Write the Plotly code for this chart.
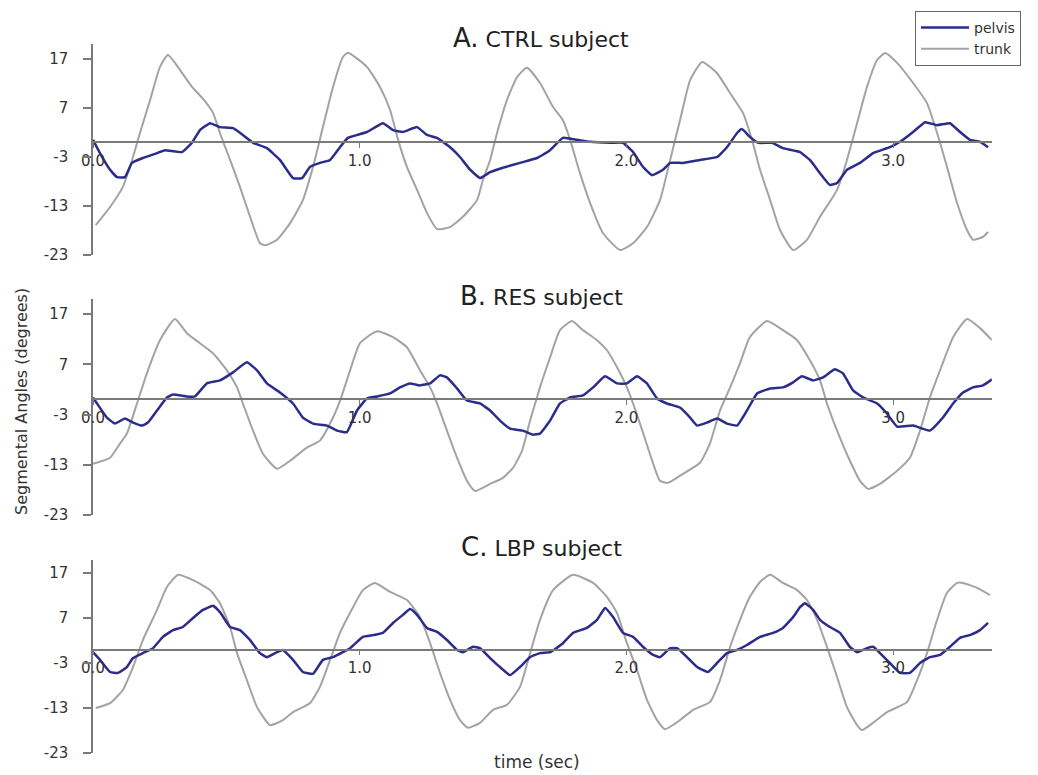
import plotly.graph_objects as go

# ---------------- data (time in sec, angle in degrees) ----------------
a_trunk_t = [0.01, 0.064, 0.112, 0.15, 0.176, 0.214, 0.251, 0.281, 0.326, 0.371, 0.412, 0.45, 0.476, 0.514, 0.551, 0.589, 0.626, 0.645, 0.69, 0.739, 0.787, 0.825, 0.862, 0.9, 0.937, 0.956, 1.027, 1.076, 1.114, 1.144, 1.177, 1.215, 1.252, 1.29, 1.339, 1.387, 1.44, 1.462, 1.489, 1.515, 1.552, 1.59, 1.627, 1.676, 1.725, 1.762, 1.789, 1.826, 1.864, 1.912, 1.976, 2.025, 2.077, 2.126, 2.164, 2.201, 2.239, 2.284, 2.34, 2.389, 2.437, 2.471, 2.501, 2.539, 2.576, 2.625, 2.677, 2.726, 2.79, 2.827, 2.865, 2.902, 2.94, 2.97, 3.015, 3.075, 3.127, 3.165, 3.202, 3.24, 3.277, 3.3, 3.337, 3.356]
a_trunk_v = [-16.9, -13.2, -9.1, -3.0, 1.9, 8.6, 15.4, 17.8, 14.8, 11.3, 8.9, 6.0, 1.9, -3.6, -9.1, -15.2, -20.6, -21.0, -19.9, -16.5, -11.8, -5.0, 3.1, 11.3, 17.4, 18.3, 15.4, 11.3, 6.6, 0.5, -5.0, -9.7, -14.4, -17.7, -17.3, -15.2, -11.8, -7.7, -3.6, 1.9, 8.6, 13.3, 15.2, 12.1, 7.2, 4.5, 0.5, -6.3, -12.4, -18.5, -22.0, -20.6, -17.3, -11.8, -3.6, 4.5, 12.7, 16.4, 14.1, 10.0, 6.0, 0.5, -5.6, -11.8, -17.9, -22.0, -19.9, -15.2, -9.7, -3.6, 3.9, 11.3, 16.8, 18.2, 16.2, 12.1, 8.0, 1.9, -5.0, -12.4, -17.9, -19.9, -19.3, -18.3]

a_pelvis_t = [0.0, 0.026, 0.064, 0.09, 0.12, 0.146, 0.187, 0.24, 0.27, 0.334, 0.371, 0.401, 0.439, 0.476, 0.525, 0.562, 0.6, 0.652, 0.701, 0.75, 0.784, 0.814, 0.851, 0.889, 0.926, 0.956, 1.027, 1.087, 1.125, 1.162, 1.215, 1.252, 1.29, 1.339, 1.376, 1.414, 1.451, 1.489, 1.537, 1.601, 1.665, 1.714, 1.762, 1.815, 1.864, 1.939, 1.987, 2.025, 2.062, 2.096, 2.137, 2.164, 2.212, 2.276, 2.34, 2.377, 2.415, 2.433, 2.463, 2.494, 2.546, 2.587, 2.651, 2.688, 2.726, 2.763, 2.79, 2.827, 2.876, 2.925, 2.988, 3.026, 3.075, 3.12, 3.165, 3.213, 3.251, 3.288, 3.326, 3.356]
a_pelvis_v = [0.5, -2.2, -5.6, -7.1, -7.1, -4.2, -3.2, -2.2, -1.6, -2.0, -0.1, 2.5, 3.9, 3.1, 2.9, 1.5, -0.1, -1.2, -3.6, -7.3, -7.3, -5.0, -4.2, -3.6, -1.0, 0.9, 2.1, 3.9, 2.5, 2.1, 3.1, 1.5, 0.9, -1.0, -3.0, -5.6, -7.3, -6.1, -5.2, -4.2, -3.2, -1.6, 0.9, 0.5, 0.1, -0.1, -0.1, -2.0, -5.0, -6.7, -5.6, -4.2, -4.2, -3.6, -3.0, -1.0, 1.9, 2.7, 1.1, -0.1, -0.1, -1.2, -2.0, -3.6, -6.3, -8.7, -8.3, -5.6, -4.2, -2.2, -1.0, 0.1, 2.1, 4.1, 3.5, 3.9, 2.1, 0.5, 0.1, -1.0]

b_trunk_t = [0.0, 0.064, 0.101, 0.127, 0.165, 0.202, 0.251, 0.307, 0.352, 0.401, 0.45, 0.502, 0.54, 0.562, 0.6, 0.637, 0.69, 0.739, 0.802, 0.851, 0.9, 0.926, 0.964, 1.001, 1.065, 1.125, 1.177, 1.226, 1.264, 1.29, 1.327, 1.365, 1.402, 1.432, 1.489, 1.537, 1.575, 1.609, 1.639, 1.676, 1.714, 1.751, 1.796, 1.837, 1.89, 1.927, 1.965, 2.002, 2.025, 2.051, 2.088, 2.126, 2.156, 2.212, 2.276, 2.313, 2.351, 2.389, 2.426, 2.463, 2.527, 2.587, 2.64, 2.688, 2.726, 2.752, 2.79, 2.838, 2.876, 2.906, 2.951, 3.015, 3.063, 3.101, 3.138, 3.176, 3.225, 3.277, 3.326, 3.371]
b_trunk_v = [-12.8, -11.6, -8.8, -6.8, -0.8, 5.2, 11.8, 16.0, 13.2, 11.2, 9.2, 5.8, 2.4, -0.8, -6.2, -10.8, -13.8, -12.2, -9.6, -8.2, -3.6, -0.3, 5.8, 11.2, 13.6, 12.4, 10.4, 5.8, 2.4, -0.8, -6.2, -11.6, -16.2, -18.2, -16.8, -15.6, -13.6, -10.2, -4.2, 2.4, 8.4, 13.8, 15.6, 13.8, 11.8, 9.8, 6.4, 2.4, -0.8, -4.8, -10.8, -16.2, -16.6, -14.8, -12.6, -8.8, -2.2, 2.4, 7.2, 12.4, 15.6, 13.8, 11.8, 7.8, 3.8, -0.8, -6.2, -12.2, -16.2, -17.8, -16.8, -14.2, -11.6, -6.2, 0.4, 5.8, 12.4, 16.0, 14.2, 11.8]

b_pelvis_t = [0.0, 0.015, 0.052, 0.082, 0.12, 0.15, 0.184, 0.206, 0.24, 0.277, 0.3, 0.352, 0.382, 0.427, 0.476, 0.525, 0.577, 0.615, 0.652, 0.701, 0.75, 0.787, 0.825, 0.877, 0.915, 0.952, 0.99, 1.027, 1.065, 1.114, 1.151, 1.189, 1.226, 1.264, 1.301, 1.327, 1.365, 1.402, 1.451, 1.489, 1.526, 1.564, 1.612, 1.65, 1.676, 1.714, 1.751, 1.789, 1.837, 1.875, 1.92, 1.965, 2.002, 2.04, 2.077, 2.115, 2.152, 2.201, 2.239, 2.265, 2.302, 2.34, 2.377, 2.415, 2.452, 2.49, 2.539, 2.587, 2.625, 2.658, 2.7, 2.737, 2.782, 2.812, 2.85, 2.887, 2.94, 2.977, 3.015, 3.075, 3.138, 3.187, 3.225, 3.262, 3.3, 3.337, 3.371]
b_pelvis_v = [0.4, -0.8, -3.6, -4.8, -3.8, -4.6, -5.2, -4.6, -2.2, 0.4, 1.0, 0.6, 0.6, 3.2, 3.8, 5.4, 7.4, 5.8, 3.2, 1.4, -0.8, -3.6, -4.8, -5.2, -6.2, -6.5, -2.2, 0.2, 0.6, 1.2, 2.4, 3.2, 2.8, 3.2, 4.8, 4.4, 2.2, -0.2, -0.8, -2.2, -4.2, -5.8, -6.2, -7.0, -6.8, -4.2, -0.8, 0.4, 0.8, 2.4, 4.6, 3.2, 3.2, 4.6, 3.2, 0.2, -0.8, -1.6, -3.6, -5.2, -4.6, -3.8, -4.8, -5.2, -2.2, 1.2, 2.2, 2.4, 3.4, 4.6, 3.8, 4.4, 6.0, 5.2, 1.8, 0.4, -0.8, -2.8, -5.4, -5.2, -6.2, -3.6, -0.8, 1.4, 2.4, 2.8, 4.0]

c_trunk_t = [0.01, 0.064, 0.112, 0.15, 0.187, 0.24, 0.277, 0.319, 0.375, 0.439, 0.476, 0.514, 0.54, 0.577, 0.615, 0.664, 0.712, 0.75, 0.814, 0.851, 0.889, 0.926, 0.975, 1.012, 1.057, 1.114, 1.177, 1.226, 1.264, 1.301, 1.339, 1.376, 1.406, 1.451, 1.5, 1.552, 1.601, 1.639, 1.676, 1.725, 1.8, 1.875, 1.927, 1.965, 2.002, 2.04, 2.077, 2.115, 2.145, 2.201, 2.25, 2.313, 2.351, 2.389, 2.426, 2.463, 2.501, 2.539, 2.587, 2.64, 2.677, 2.715, 2.752, 2.79, 2.827, 2.865, 2.883, 2.925, 2.977, 3.052, 3.09, 3.127, 3.165, 3.202, 3.24, 3.262, 3.315, 3.363]
c_trunk_v = [-13.0, -11.9, -9.0, -3.9, 2.1, 8.8, 13.9, 16.6, 15.4, 13.2, 10.3, 5.0, -0.8, -6.8, -12.8, -16.8, -15.7, -13.9, -11.9, -8.3, -2.3, 3.7, 9.4, 13.2, 14.8, 12.8, 11.0, 7.2, 1.4, -5.2, -11.2, -15.7, -17.4, -16.3, -13.4, -12.3, -8.3, -0.8, 6.6, 13.2, 16.6, 14.8, 11.7, 8.1, 1.4, -4.6, -11.2, -15.7, -17.7, -15.7, -13.4, -11.7, -6.8, 0.6, 6.6, 11.7, 15.0, 16.6, 14.8, 13.2, 11.0, 6.6, 0.6, -6.1, -12.8, -16.8, -17.9, -16.3, -13.9, -11.7, -6.8, -0.8, 6.6, 12.6, 14.8, 14.8, 13.7, 12.1]

c_pelvis_t = [0.0, 0.026, 0.064, 0.094, 0.127, 0.15, 0.187, 0.225, 0.262, 0.3, 0.337, 0.375, 0.412, 0.45, 0.476, 0.514, 0.551, 0.589, 0.626, 0.652, 0.69, 0.712, 0.75, 0.787, 0.825, 0.862, 0.9, 0.937, 0.964, 1.012, 1.05, 1.087, 1.125, 1.162, 1.189, 1.215, 1.252, 1.29, 1.327, 1.365, 1.387, 1.425, 1.451, 1.489, 1.526, 1.564, 1.601, 1.639, 1.676, 1.714, 1.762, 1.8, 1.852, 1.89, 1.92, 1.95, 1.987, 2.025, 2.062, 2.1, 2.126, 2.164, 2.19, 2.227, 2.265, 2.306, 2.34, 2.377, 2.415, 2.452, 2.501, 2.55, 2.587, 2.625, 2.651, 2.67, 2.7, 2.726, 2.763, 2.801, 2.838, 2.865, 2.902, 2.925, 2.951, 2.988, 3.026, 3.063, 3.101, 3.138, 3.176, 3.213, 3.251, 3.288, 3.326, 3.356]
c_pelvis_v = [-0.6, -2.3, -5.0, -5.2, -3.9, -1.9, -0.8, 0.3, 2.8, 4.3, 5.0, 7.0, 8.8, 9.7, 8.3, 5.0, 4.3, 2.1, -0.8, -1.7, -0.6, -0.1, -2.3, -5.0, -5.4, -2.3, -1.7, -0.6, 0.3, 2.8, 3.2, 3.7, 5.9, 7.7, 9.0, 7.7, 4.8, 3.9, 2.1, -0.1, -0.6, 0.6, 0.3, -1.9, -3.9, -5.7, -3.9, -1.7, -0.8, -0.6, 1.4, 3.7, 4.8, 6.6, 9.2, 7.2, 3.7, 2.8, 0.6, -1.2, -1.7, 0.3, 0.3, -1.7, -3.9, -5.0, -3.0, -0.8, -0.1, 1.0, 2.8, 3.7, 4.8, 7.2, 9.4, 10.3, 8.8, 6.6, 5.0, 3.7, 0.6, -0.6, 0.3, 0.6, -0.8, -3.0, -5.2, -5.2, -3.0, -1.7, -1.2, 0.6, 2.6, 3.2, 4.3, 5.9]

panel_titles = ["A.", "B.", "C."]
panel_names = ["CTRL subject", "RES subject", "LBP subject"]
y_ticks = [17, 7, -3, -13, -23]
y_ticktext = ["17", "7", "-3", "-13", "-23"]
x_ticks = [0, 1, 2, 3]
x_ticktext = ["0.0", "1.0", "2.0", "3.0"]
series_names = ["pelvis", "trunk"]

# ---------------- styling ----------------
OFF = 8                      # page body margin of the browser
W, H = 1038 - OFF, 775 - OFF  # figure size so that it fits the window


def fx(px):
    return (px - OFF) / W


def fy(py):
    return 1 - (py - OFF) / H


FONT = "DejaVu Sans"
PELVIS_C = "#2c2c8a"
TRUNK_C = "#a3a3a3"
AXIS_C = "#7a7a7a"
TEXT_C = "#333333"
Y_RANGE = [-23, 20]
X_RANGE = [0, 3.37]
x_dom = [fx(93), fx(93 + 266.7 * X_RANGE[1])]
panel_px = [(44.3, 255.0), (299.0, 515.0), (559.5, 753.0)]
title_px = [38, 296, 547]

fig = go.Figure()
panels = [
    (a_pelvis_t, a_pelvis_v, a_trunk_t, a_trunk_v),
    (b_pelvis_t, b_pelvis_v, b_trunk_t, b_trunk_v),
    (c_pelvis_t, c_pelvis_v, c_trunk_t, c_trunk_v),
]

for i, (pt, pv, tt, tv) in enumerate(panels):
    sfx = "" if i == 0 else str(i + 1)
    xa, ya = "x" + sfx, "y" + sfx
    fig.add_trace(go.Scatter(x=tt, y=tv, mode="lines", name=series_names[1],
                             line=dict(color=TRUNK_C, width=2, shape="spline", smoothing=0.5),
                             xaxis=xa, yaxis=ya, showlegend=(i == 0), legendrank=2))
    fig.add_trace(go.Scatter(x=pt, y=pv, mode="lines", name=series_names[0],
                             line=dict(color=PELVIS_C, width=2.5, shape="spline", smoothing=0.35),
                             xaxis=xa, yaxis=ya, showlegend=(i == 0), legendrank=1))

    top, bot = panel_px[i]
    d0, d1 = fy(bot), fy(top)
    zero_pos = d0 + (d1 - d0) * (0 - Y_RANGE[0]) / (Y_RANGE[1] - Y_RANGE[0])
    fig.update_layout(**{
        "xaxis" + sfx: dict(domain=x_dom, range=X_RANGE, anchor="free", position=zero_pos,
                            showline=True, linecolor=AXIS_C, linewidth=1.5,
                            ticks="outside", ticklen=5, tickcolor=AXIS_C, tickwidth=1,
                            tickvals=x_ticks, ticktext=x_ticktext, showgrid=False, zeroline=False,
                            tickfont=dict(family=FONT, size=15, color=TEXT_C), automargin=False),
        "yaxis" + sfx: dict(domain=[d0, d1], range=Y_RANGE, anchor=xa,
                            showline=True, linecolor=AXIS_C, linewidth=1.5,
                            ticks="outside", ticklen=8, tickcolor=AXIS_C, tickwidth=1.5,
                            tickvals=y_ticks, ticktext=y_ticktext,
                            showgrid=False, zeroline=False,
                            ticklabelstandoff=12,
                            tickfont=dict(family=FONT, size=15, color=TEXT_C), automargin=False),
    })
    fig.add_annotation(
        text=f"<span style='font-size:26px'>{panel_titles[i]}</span> {panel_names[i]}",
        xref="paper", yref="paper", x=fx(541), y=fy(title_px[i]),
        xanchor="center", yanchor="middle", showarrow=False,
        font=dict(family=FONT, size=22, color="#222222"))

fig.add_annotation(text="Segmental Angles (degrees)", xref="paper", yref="paper",
                   x=fx(21), y=fy(402), textangle=-90, showarrow=False,
                   xanchor="center", yanchor="middle",
                   font=dict(family=FONT, size=16, color=TEXT_C))
fig.add_annotation(text="time (sec)", xref="paper", yref="paper",
                   x=fx(537), y=fy(762), showarrow=False,
                   xanchor="center", yanchor="middle",
                   font=dict(family=FONT, size=17, color=TEXT_C))

fig.update_layout(
    width=W, height=H, template="none",
    margin=dict(l=0, r=0, t=0, b=0),
    paper_bgcolor="white", plot_bgcolor="white",
    showlegend=True,
    legend=dict(x=fx(915), y=fy(11), xanchor="left", yanchor="top",
                bordercolor="#666666", borderwidth=1, bgcolor="white",
                font=dict(family=FONT, size=14, color=TEXT_C),
                itemwidth=48, tracegroupgap=0),
)

fig.write_html("out.html")
